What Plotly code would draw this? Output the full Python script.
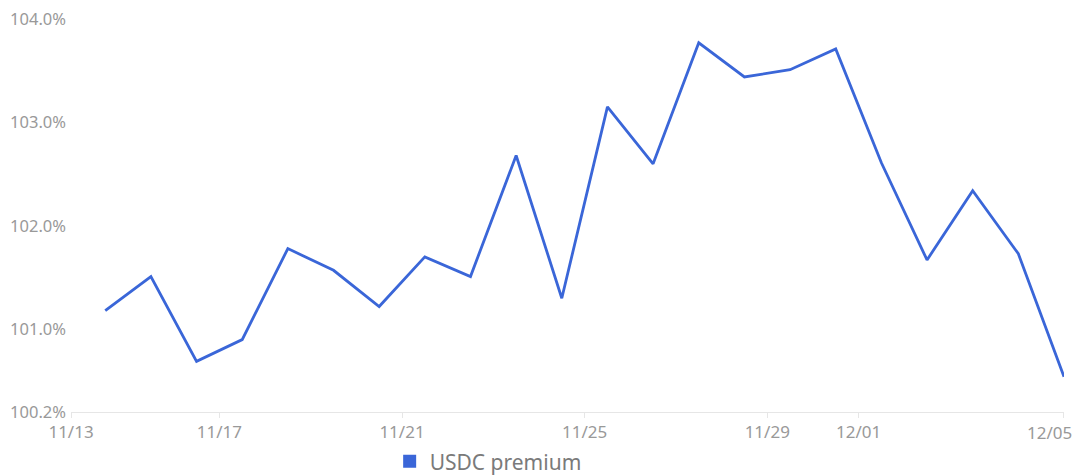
import plotly.graph_objects as go

# Data: daily observations (timestamps at midday)
dates = [
    "2023-11-14 12:00", "2023-11-15 12:00", "2023-11-16 12:00", "2023-11-17 12:00",
    "2023-11-18 12:00", "2023-11-19 12:00", "2023-11-20 12:00", "2023-11-21 12:00",
    "2023-11-22 12:00", "2023-11-23 12:00", "2023-11-24 12:00", "2023-11-25 12:00",
    "2023-11-26 12:00", "2023-11-27 12:00", "2023-11-28 12:00", "2023-11-29 12:00",
    "2023-11-30 12:00", "2023-12-01 12:00", "2023-12-02 12:00", "2023-12-03 12:00",
    "2023-12-04 12:00", "2023-12-05 12:00",
]
premium = [
    101.18, 101.51, 100.69, 100.90, 101.78, 101.57, 101.22, 101.70,
    101.51, 102.68, 101.30, 103.15, 102.60, 103.77, 103.44, 103.51,
    103.71, 102.61, 101.67, 102.34, 101.73, 100.54,
]
series_name = "USDC premium"

x_range = ["2023-11-13 18:00", "2023-12-05 12:00"]
x_tick_vals = ["2023-11-13 18:01", "2023-11-17", "2023-11-21", "2023-11-25",
               "2023-11-29", "2023-12-01", "2023-12-05 11:59"]
x_tick_text = ["11/13", "11/17", "11/21", "11/25", "11/29", "12/01", ""]
x_last_label = "12/05"  # drawn shifted inward, as in the reference

y_range = [100.2, 104.0]
y_tick_vals = [100.2, 101.0, 102.0, 103.0, 104.0]
y_tick_text = ["100.2%", "101.0%", "102.0%", "103.0%", "104.0%"]

line_color = "#3a66d8"
font_family = "Noto Sans, Open Sans, sans-serif"
label_color = "#999999"

fig = go.Figure()
fig.add_trace(go.Scatter(
    x=dates, y=premium, mode="lines", name=series_name,
    line=dict(color=line_color, width=2.8), showlegend=False,
))
# legend swatch (square marker like the reference)
fig.add_trace(go.Scatter(
    x=[None], y=[None], mode="markers", name=series_name,
    marker=dict(symbol="square", size=13, color=line_color),
    showlegend=True,
))

fig.add_annotation(
    x=x_range[1], y=0, xref="x", yref="paper",
    text=x_last_label, showarrow=False,
    xanchor="right", yanchor="top", xshift=10, yshift=-7,
    font=dict(size=17, color=label_color, family=font_family),
)

fig.update_layout(
    width=1080, height=476,
    margin=dict(l=71, r=16, t=19, b=64, autoexpand=False),
    paper_bgcolor="white", plot_bgcolor="white",
    font=dict(family=font_family, color=label_color, size=15),
    legend=dict(
        orientation="h", xref="container", yref="container",
        x=0.452, xanchor="center", y=0.03, yanchor="middle",
        font=dict(size=21, color="#7a7a7a", family=font_family),
        itemwidth=30,
    ),
    hovermode="x",
)
fig.update_xaxes(
    type="date", range=x_range, automargin=False,
    tickmode="array", tickvals=x_tick_vals, ticktext=x_tick_text,
    showgrid=False, zeroline=False,
    showline=True, linecolor="#e6e6e6", linewidth=1,
    ticks="outside", ticklen=5, tickcolor="#e6e6e6",
    tickfont=dict(size=17, color=label_color),
)
fig.update_yaxes(
    range=y_range, automargin=False,
    tickmode="array", tickvals=y_tick_vals, ticktext=y_tick_text,
    showgrid=False, zeroline=False, showline=False,
    ticks="", ticklabelstandoff=4,
    tickfont=dict(size=16.5, color=label_color),
)

fig.write_html("out.html", config={"displayModeBar": False},
               post_script="document.body.style.margin='0';")
